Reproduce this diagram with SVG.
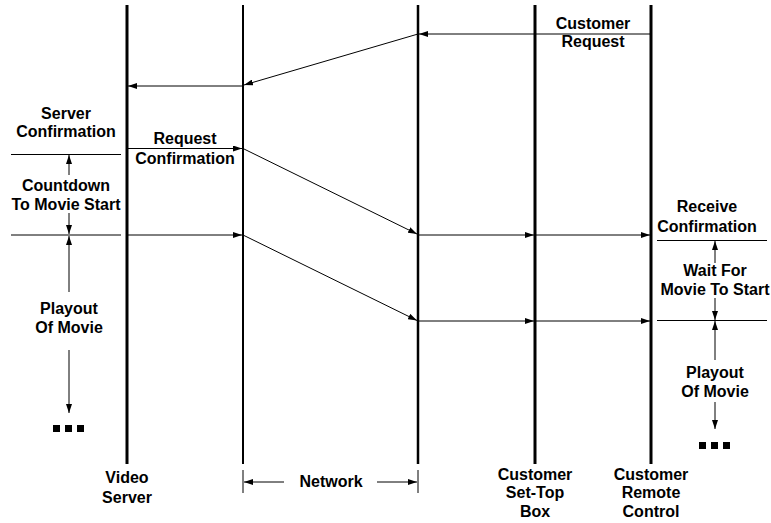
<svg xmlns="http://www.w3.org/2000/svg" width="771" height="523" viewBox="0 0 771 523">
<style>
text{font-family:"Liberation Sans",Arial,sans-serif;font-weight:bold;font-size:16px;fill:#000;text-anchor:middle}
.life{stroke:#000;fill:none}
.c{stroke:#000;stroke-width:1;fill:none}
.sq{fill:#000}
</style>
<defs>
<marker id="ah" viewBox="0 0 9 6" refX="9" refY="3" markerWidth="9" markerHeight="6" markerUnits="userSpaceOnUse" orient="auto">
<path d="M0,0 L9,3 L0,6 Z" fill="#000"/>
</marker>
</defs>
<rect width="771" height="523" fill="#fff"/>
<g id="video-server">
<line class="life" x1="127" y1="5" x2="127" y2="464" stroke-width="3"/>
<text x="127" y="483">Video</text>
<text x="127" y="503">Server</text>
</g>
<g id="network-left">
<line class="life" x1="243" y1="5" x2="243" y2="464" stroke-width="2"/>
</g>
<g id="network-right">
<line class="life" x1="418" y1="5" x2="418" y2="464" stroke-width="2.5"/>
</g>
<g id="set-top-box">
<line class="life" x1="535" y1="5" x2="535" y2="464" stroke-width="3"/>
<text x="535" y="480">Customer</text>
<text x="535" y="498">Set-Top</text>
<text x="535" y="517">Box</text>
</g>
<g id="remote-control">
<line class="life" x1="651" y1="5" x2="651" y2="464" stroke-width="3"/>
<text x="651" y="480">Customer</text>
<text x="651" y="498">Remote</text>
<text x="651" y="517">Control</text>
</g>
<g id="network-label">
<line class="c" x1="243" y1="470" x2="243" y2="493"/>
<line class="c" x1="418" y1="470" x2="418" y2="493"/>
<line class="c" x1="284" y1="482" x2="244" y2="482" marker-end="url(#ah)"/>
<line class="c" x1="377" y1="482" x2="417" y2="482" marker-end="url(#ah)"/>
<text x="331" y="487">Network</text>
</g>
<g id="server-timeline">
<text x="66" y="119">Server</text>
<text x="66" y="137">Confirmation</text>
<line class="c" x1="11" y1="154.5" x2="121" y2="154.5"/>
<line class="c" x1="11" y1="235" x2="121" y2="235"/>
<line class="c" x1="69" y1="175" x2="69" y2="155" marker-end="url(#ah)"/>
<text x="66" y="191">Countdown</text>
<text x="66" y="210">To Movie Start</text>
<line class="c" x1="69" y1="213" x2="69" y2="234" marker-end="url(#ah)"/>
<line class="c" x1="69" y1="292" x2="69" y2="236" marker-end="url(#ah)"/>
<text x="69" y="314">Playout</text>
<text x="69" y="333">Of Movie</text>
<line class="c" x1="69" y1="350" x2="69" y2="413" marker-end="url(#ah)"/>
<rect class="sq" x="53" y="425" width="7" height="7"/>
<rect class="sq" x="65" y="425" width="7" height="7"/>
<rect class="sq" x="77" y="425" width="7" height="7"/>
</g>
<g id="customer-timeline">
<text x="707" y="212">Receive</text>
<text x="707" y="232">Confirmation</text>
<line class="c" x1="657" y1="240.5" x2="767" y2="240.5"/>
<line class="c" x1="657" y1="320.5" x2="767" y2="320.5"/>
<line class="c" x1="715" y1="263" x2="715" y2="241" marker-end="url(#ah)"/>
<text x="715" y="276">Wait For</text>
<text x="715" y="295">Movie To Start</text>
<line class="c" x1="715" y1="298" x2="715" y2="320" marker-end="url(#ah)"/>
<line class="c" x1="715" y1="360" x2="715" y2="321" marker-end="url(#ah)"/>
<text x="715" y="378">Playout</text>
<text x="715" y="397">Of Movie</text>
<line class="c" x1="715" y1="402" x2="715" y2="429" marker-end="url(#ah)"/>
<rect class="sq" x="699" y="442" width="7" height="7"/>
<rect class="sq" x="711" y="442" width="7" height="7"/>
<rect class="sq" x="723" y="442" width="7" height="7"/>
</g>
<g id="connectors">
<line class="c" x1="651" y1="34" x2="419" y2="34" marker-end="url(#ah)"/>
<line class="c" x1="418" y1="34" x2="244" y2="85" marker-end="url(#ah)"/>
<line class="c" x1="243" y1="86" x2="128" y2="86" marker-end="url(#ah)"/>
<line class="c" x1="127" y1="148.5" x2="242" y2="148.5" marker-end="url(#ah)"/>
<line class="c" x1="243" y1="148.5" x2="417" y2="234" marker-end="url(#ah)"/>
<line class="c" x1="127" y1="235" x2="242" y2="235" marker-end="url(#ah)"/>
<line class="c" x1="418" y1="235" x2="534" y2="235" marker-end="url(#ah)"/>
<line class="c" x1="535" y1="235" x2="650" y2="235" marker-end="url(#ah)"/>
<line class="c" x1="243" y1="235" x2="417" y2="320.5" marker-end="url(#ah)"/>
<line class="c" x1="418" y1="321" x2="534" y2="321" marker-end="url(#ah)"/>
<line class="c" x1="535" y1="321" x2="650" y2="321" marker-end="url(#ah)"/>
</g>
<g id="labels">
<text x="593" y="29">Customer</text>
<text x="593" y="47">Request</text>
<text x="185" y="144">Request</text>
<text x="185" y="164">Confirmation</text>
</g>
</svg>
